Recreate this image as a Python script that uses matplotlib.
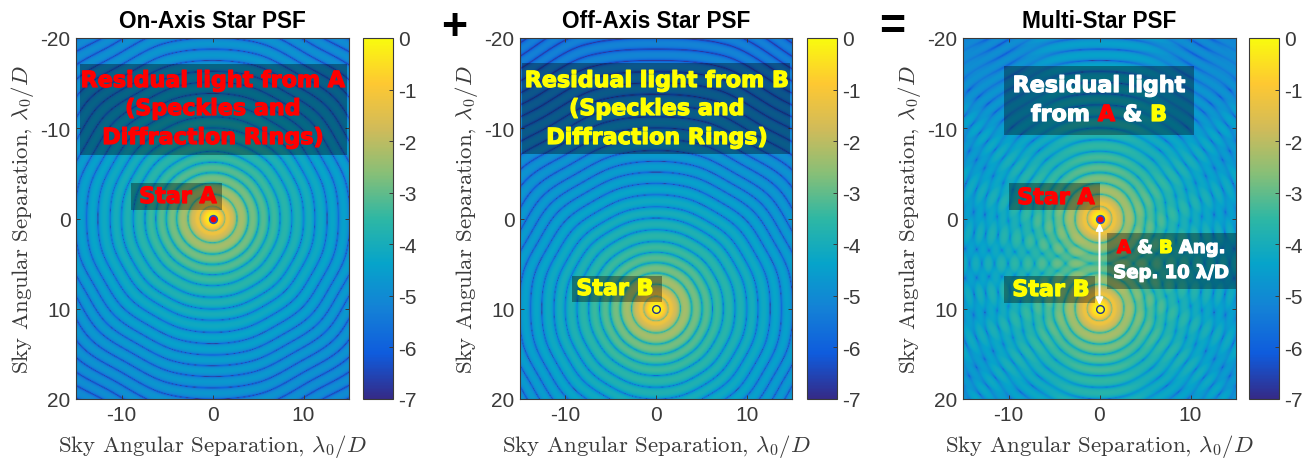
import numpy as np
import matplotlib
matplotlib.use("Agg")
import matplotlib.pyplot as plt
from matplotlib.colors import LinearSegmentedColormap
from matplotlib.patches import Rectangle
import matplotlib.patheffects as pe

plt.rcParams["font.family"] = ["Liberation Sans", "DejaVu Sans"]
plt.rcParams["mathtext.fontset"] = "cm"
plt.rcParams["axes.unicode_minus"] = False

W, H = 1312, 464

# Values
titles = ["On-Axis Star PSF", "Off-Axis Star PSF", "Multi-Star PSF"]
x_ticks = [-10, 0, 10]
y_ticks = [-20, -10, 0, 10, 20]
cbar_ticks = [0, -1, -2, -3, -4, -5, -6, -7]
axis_label = r"Sky Angular Separation, $\lambda_0/D$"
star_a_pos = [0.0, 0.0]
star_b_pos = [0.0, 10.0]

# Radii of the dark rings of one star (lambda/D), read along the spokes
null_radii = [1.4, 2.7, 3.95, 5.1, 6.25, 7.45, 8.75, 10.05, 11.3, 12.65, 13.9, 15.15,
              16.35, 17.55, 18.8, 20.05, 21.3, 22.55, 23.8, 25.05, 26.3, 27.55, 28.8,
              30.05, 31.3, 32.55, 33.8, 35.05]
# Brightness of the rings (log10) against radius
level_radii = [0.0, 1.4, 2.0, 3.3, 4.5, 6.0, 8.0, 10.0, 12.0, 14.0, 17.0, 20.0, 25.0, 30.0, 35.0]
level_values = [0.0, -0.3, -1.6, -2.3, -2.8, -3.2, -3.6, -3.9, -4.15, -4.4, -4.6, -4.75, -5.0, -5.2, -5.3]
# Waviness of the rings at the outer edge (lambda/D), over a quarter turn
wobble_angles = [0, 15, 30, 45, 60, 75, 90]
wobble_offsets = [0.05, -0.15, 0.3, -0.2, 0.25, -0.1, 0.0]
# Colour stops of the colormap
parula_colors = ["#352a87", "#0f5cdd", "#1481d6", "#06a4ca", "#2eb7a4",
                 "#87bf77", "#d1bb59", "#fec832", "#f9fb0e"]

parula = LinearSegmentedColormap.from_list("parula_like", parula_colors, N=256)
nulls = np.array(null_radii)
angle_knots = np.array(wobble_angles, dtype=float)
offset_knots = np.array(wobble_offsets)


def wobble(ang):
    i = np.clip(np.searchsorted(angle_knots, ang) - 1, 0, len(angle_knots) - 2)
    t = (ang - angle_knots[i]) / (angle_knots[i + 1] - angle_knots[i])
    t = t * t * (3 - 2 * t)
    return offset_knots[i] * (1 - t) + offset_knots[i + 1] * t


def field(cx, cy, X, Y):
    """Signed amplitude of one star's ring pattern, looked up from the read tables."""
    dx, dy = X - cx, Y - cy
    r = np.hypot(dx, dy)
    ang = np.degrees(np.arctan2(np.abs(dy), np.abs(dx)))
    r2 = r + wobble(ang) * np.clip(r / 20.0, 0, 1.6) ** 2.5
    r2 = np.clip(r2, 0, nulls[-1] - 1e-3)
    idx = np.searchsorted(nulls, r2)
    left = np.where(idx > 0, nulls[np.maximum(idx - 1, 0)], -nulls[0])
    right = nulls[idx]
    s = np.abs(np.sin(np.pi * (r2 - left) / (right - left)))
    shape = np.where(idx == 0, s ** 2, s ** 1.3)
    env = 10.0 ** np.interp(r2, level_radii, level_values)
    sign = np.where(idx % 2 == 0, 1.0, -1.0)
    return sign * np.sqrt(env * shape), env


x = np.linspace(-15, 15, 330)
y = np.linspace(-20, 20, 440)
X, Y = np.meshgrid(x, y)
A1, E1 = field(star_a_pos[0], star_a_pos[1], X, Y)
A2, E2 = field(star_b_pos[0], star_b_pos[1], X, Y)
img1 = np.log10(A1 ** 2 + 0.0015 * E1)
img2 = np.log10(A2 ** 2 + 0.0015 * E2)
img3 = np.log10(0.6 * (A1 ** 2 + A2 ** 2) + 0.4 * (A1 + A2) ** 2 + 0.002 * (E1 + E2))
images = [img1, img2, img3]

fig = plt.figure(figsize=(W / 100, H / 100), dpi=100)


def fx(p):
    return p / W


def fy(p):
    return 1 - p / H


def px_axes(l, t, r, b):
    return fig.add_axes([fx(l), fy(b), (r - l) / W, (b - t) / H])


panels = [(76, 349, 363, 393), (520, 792, 807, 837), (963, 1236, 1249, 1279)]
TOP, BOT = 39, 400
dark = "#3a3a3a"

for k, (l, r, cl, cr) in enumerate(panels):
    ax = px_axes(l, TOP, r, BOT)
    im = ax.imshow(images[k], extent=[-15, 15, 20, -20], aspect="auto", cmap=parula,
                   vmin=-7, vmax=0, interpolation="bilinear")
    ax.set_xticks(x_ticks)
    ax.set_yticks(y_ticks)
    ax.tick_params(direction="in", length=3, width=0.7, top=True, right=True,
                   labelsize=15, colors=dark, pad=4)
    for s in ax.spines.values():
        s.set_color(dark)
        s.set_linewidth(0.8)
    ax.set_title(titles[k], fontsize=16.3, fontweight="bold", color="black", pad=8)
    ax.set_xlabel(axis_label, fontfamily="cmr10", fontsize=16.5, color=dark, labelpad=6)
    ax.set_ylabel(axis_label, fontfamily="cmr10", fontsize=16.5, color=dark, labelpad=3)
    cax = px_axes(cl, TOP, cr, BOT)
    cb = fig.colorbar(im, cax=cax, ticks=cbar_ticks)
    cb.ax.set_yticklabels([str(t) for t in cbar_ticks])
    cb.ax.tick_params(direction="in", length=3, width=0.7, labelsize=15, colors=dark, pad=4)
    cb.outline.set_edgecolor(dark)
    cb.outline.set_linewidth(0.8)
    if k == 0:
        ax.plot(*star_a_pos, "o", ms=5.5, mfc="red", mec="#2a50c0", mew=1.2)
    elif k == 1:
        ax.plot(*star_b_pos, "o", ms=5.5, mfc="#ffff20", mec="#203090", mew=1.0)
    else:
        ax.plot(*star_a_pos, "o", ms=5.5, mfc="red", mec="#2a50c0", mew=1.2)
        ax.plot(*star_b_pos, "o", ms=5.5, mfc="#ffff20", mec="#203090", mew=1.0)
        ax.annotate("", xy=(0, 0.5), xytext=(0, 9.6),
                    arrowprops=dict(arrowstyle="<|-|>", color="white", lw=1.5,
                                    mutation_scale=10, shrinkA=0, shrinkB=0))

OVER = "DejaVu Sans"


def box(l, t, r, b, alpha=0.35):
    fig.add_artist(Rectangle((fx(l), fy(b)), (r - l) / W, (b - t) / H, transform=fig.transFigure,
                             facecolor="black", edgecolor="none", alpha=alpha, zorder=5))


def label(px, py, s, color, size=16):
    return fig.text(fx(px), fy(py), s, color=color, fontsize=size, fontweight="bold",
                    family=OVER, ha="center", va="center", zorder=6,
                    path_effects=[pe.withStroke(linewidth=0.9, foreground=color)])


def colored_line(cx, py, parts, size=16):
    """Several colours on one line, centred on cx."""
    rend = fig.canvas.get_renderer()
    items = [fig.text(0, fy(py), s, color=c, fontsize=size, fontweight="bold", family=OVER,
                      ha="left", va="center", zorder=6,
                      path_effects=[pe.withStroke(linewidth=0.9, foreground=c)]) for s, c in parts]
    widths = [t.get_window_extent(rend).width for t in items]
    cur = cx - sum(widths) / 2
    for t, w in zip(items, widths):
        t.set_x(fx(cur))
        cur += w


# Panel 1
box(80, 65, 347, 156)
for py, s in zip([82, 110, 139], ["Residual light from A", "(Speckles and", "Diffraction Rings)"]):
    label(213, py, s, "red")
box(131, 184, 222, 211)
label(178, 198, "Star A", "red")
# Panel 2
box(522, 64, 790, 155)
for py, s in zip([82, 110, 139], ["Residual light from B", "(Speckles and", "Diffraction Rings)"]):
    label(657, py, s, "#ffff00")
box(572, 277, 662, 303)
label(615, 290, "Star B", "#ffff00")
# Panel 3
box(1004, 67, 1194, 136)
label(1099, 87, "Residual light", "white")
colored_line(1099, 116, [("from ", "white"), ("A ", "red"), ("& ", "white"), ("B", "#ffff00")])
box(1009, 184, 1100, 211)
label(1056, 199, "Star A", "red")
box(1004, 277, 1095, 304)
label(1051, 291, "Star B", "#ffff00")
box(1107, 234, 1236, 290)
colored_line(1171, 249, [("A ", "red"), ("& ", "white"), ("B ", "#ffff00"), ("Ang.", "white")], size=13)
label(1171, 274, "Sep. 10 λ/D", "white", size=13)

# Operators between panels
fig.text(fx(454), fy(29), "+", fontsize=32, fontweight="bold", color="black", ha="center", va="center")
fig.text(fx(892), fy(28), "=", fontsize=32, fontweight="bold", color="black", ha="center", va="center")

fig.savefig("out.png", dpi=100)
